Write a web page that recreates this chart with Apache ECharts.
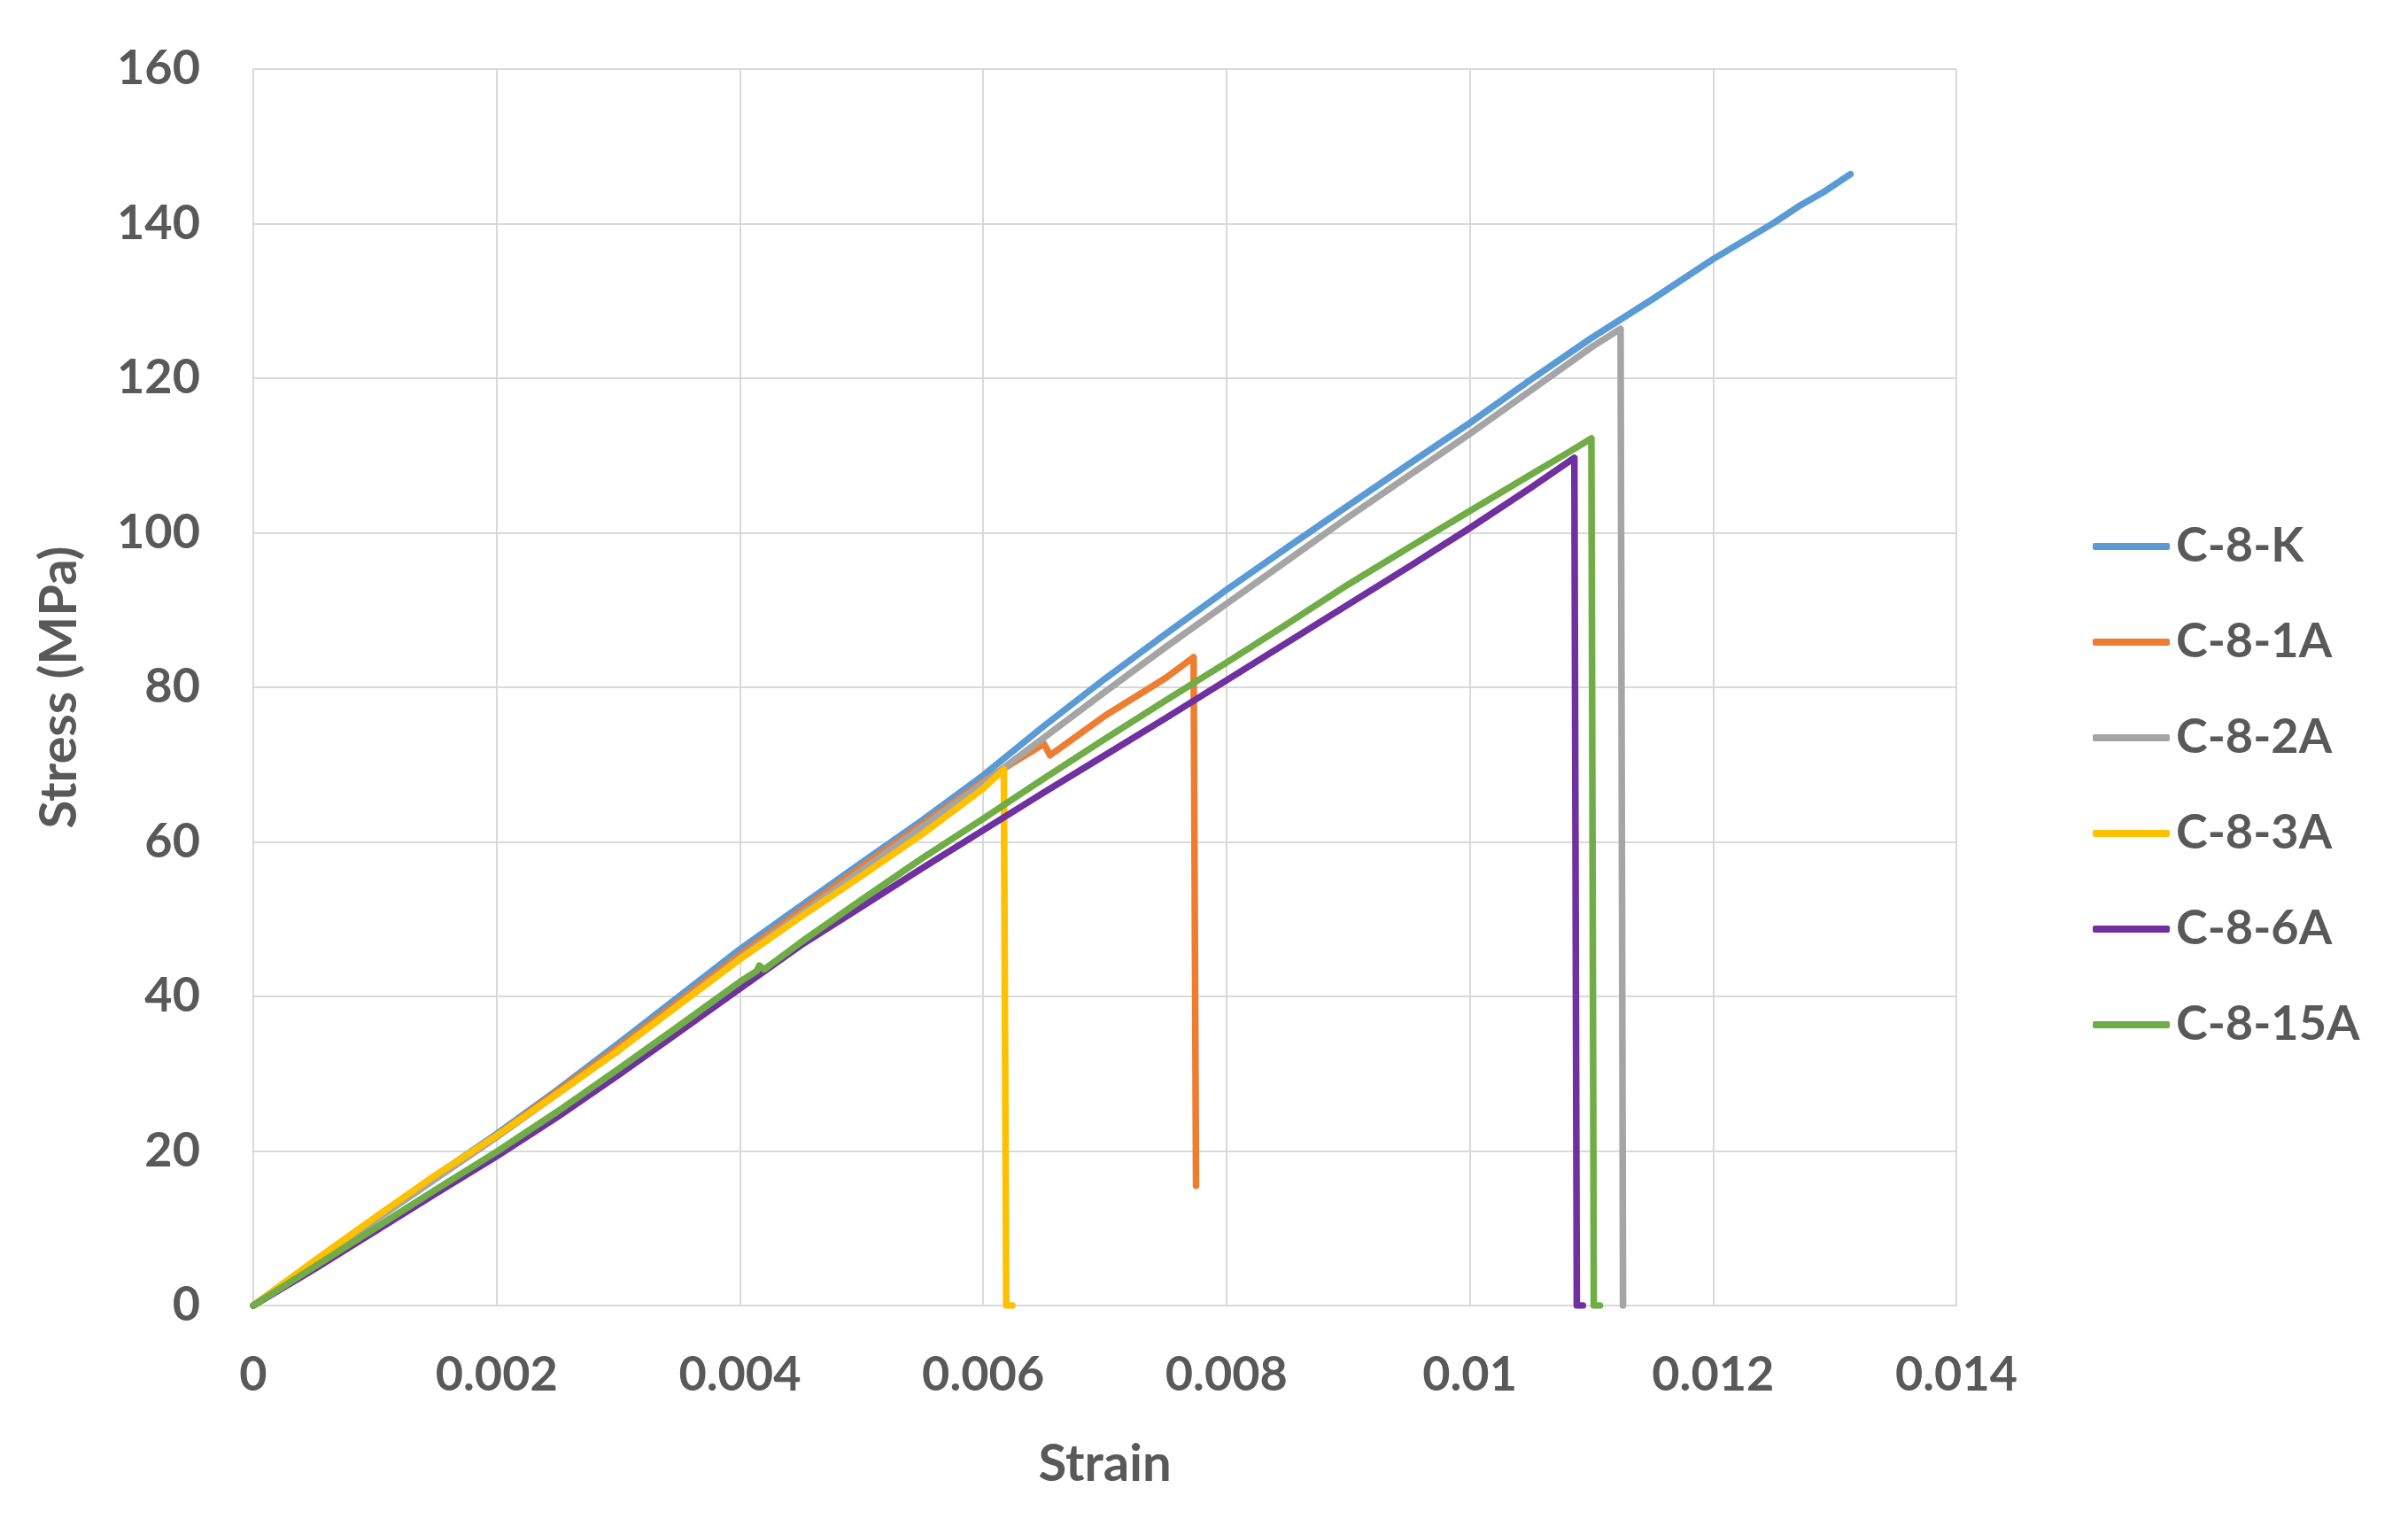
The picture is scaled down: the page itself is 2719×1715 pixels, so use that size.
<!DOCTYPE html>
<html>
<head>
<meta charset="utf-8">
<script src="https://cdn.jsdelivr.net/npm/echarts@6/dist/echarts.min.js"></script>
<style>
html,body{margin:0;padding:0;background:#fff;}
#chart{width:2719px;height:1715px;}
</style>
</head>
<body>
<div id="chart"></div>
<script>
// ---- Data (strain, stress MPa) ----
const seriesNames = ['C-8-K', 'C-8-1A', 'C-8-2A', 'C-8-3A', 'C-8-6A', 'C-8-15A'];
const xTickLabels = ['0', '0.002', '0.004', '0.006', '0.008', '0.01', '0.012', '0.014'];
const yTickLabels = ['0', '20', '40', '60', '80', '100', '120', '140', '160'];

const c8K = [[0,0],[0.0005,5.7],[0.001,11.3],[0.0015,16.8],[0.002,22.2],[0.0025,27.9],[0.003,33.9],[0.0035,40.0],[0.004,46.1],[0.0045,51.7],[0.005,57.3],[0.0055,62.8],[0.006,68.6],[0.0065,75.0],[0.007,81.1],[0.0075,86.9],[0.008,92.6],[0.0085,98.1],[0.009,103.5],[0.0095,108.9],[0.01,114.2],[0.0105,119.8],[0.011,125.2],[0.0115,130.2],[0.012,135.4],[0.0125,140.1],[0.0127,142.2],[0.0129,144.0],[0.01313,146.4]];
const c81A = [[0,0],[0.001,11.2],[0.002,22.0],[0.003,33.4],[0.004,45.4],[0.005,56.8],[0.006,67.8],[0.0062,69.8],[0.0065,72.7],[0.00655,71.2],[0.007,76.3],[0.0075,81.2],[0.00773,83.9],[0.00775,15.5]];
const c82A = [[0,0],[0.001,11.0],[0.002,21.8],[0.003,33.0],[0.004,45.0],[0.005,56.3],[0.006,67.6],[0.0065,73.5],[0.007,79.4],[0.0075,85.2],[0.008,90.8],[0.0085,96.4],[0.009,102.0],[0.0095,107.4],[0.01,112.8],[0.0105,118.4],[0.011,124.0],[0.01124,126.4],[0.01126,0]];
const c83A = [[0,0],[0.0005,5.8],[0.001,11.4],[0.0015,16.9],[0.002,22.0],[0.0025,27.4],[0.003,33.0],[0.0035,38.9],[0.004,44.8],[0.0045,50.3],[0.005,55.6],[0.0055,61.0],[0.006,66.9],[0.00617,69.4],[0.00619,0],[0.00624,0]];
const c86A = [[0,0],[0.0005,4.7],[0.001,9.6],[0.0015,14.5],[0.002,19.3],[0.0025,24.4],[0.003,29.8],[0.0035,35.4],[0.004,41.0],[0.0045,46.6],[0.005,51.6],[0.0055,56.6],[0.006,61.5],[0.0065,66.4],[0.007,71.2],[0.0075,76.0],[0.008,80.9],[0.0085,85.8],[0.009,90.7],[0.0095,95.6],[0.01,100.6],[0.0105,105.8],[0.01086,109.7],[0.01088,0],[0.01093,0]];
const c815A = [[0,0],[0.0005,5.0],[0.001,10.0],[0.0015,15.0],[0.002,19.9],[0.0025,25.1],[0.003,30.6],[0.0035,36.2],[0.004,41.9],[0.00414,43.3],[0.00416,44.0],[0.0042,43.5],[0.0045,47.0],[0.005,52.5],[0.0055,57.9],[0.006,63.0],[0.0065,68.2],[0.007,73.3],[0.0075,78.3],[0.008,83.2],[0.0085,88.2],[0.009,93.3],[0.0095,98.1],[0.01,102.8],[0.0105,107.5],[0.0108,110.3],[0.011,112.2],[0.01102,0],[0.01107,0]];

const seriesData = [c8K, c81A, c82A, c83A, c86A, c815A];
const colors = ['#5B9BD5', '#ED7D31', '#A5A5A5', '#FFC000', '#7030A0', '#70AD47'];

const FONT = 'Lato, "Open Sans", sans-serif';
const TXT = '#595959';

const chart = echarts.init(document.getElementById('chart'), null, {renderer: 'canvas'});
chart.setOption({
  animation: false,
  backgroundColor: '#ffffff',
  color: colors,
  grid: {left: 286, right: 510, top: 78, bottom: 241, containLabel: false},
  legend: {
    orient: 'vertical',
    left: 2358,
    top: 582,
    icon: 'roundRect',
    itemWidth: 87,
    itemHeight: 8,
    itemGap: 48,
    data: seriesNames,
    textStyle: {fontFamily: FONT, fontWeight: 'bold', fontSize: 54, color: TXT, lineHeight: 60, padding: [0,0,0,2]}
  },
  xAxis: {
    type: 'value', min: 0, max: 0.014, interval: 0.002,
    name: 'Strain', nameLocation: 'middle', nameGap: 150,
    nameTextStyle: {fontFamily: FONT, fontWeight: 'bold', fontSize: 58, color: TXT},
    axisLine: {show: true, lineStyle: {color: '#D9D9D9', width: 2}},
    axisTick: {show: false},
    axisLabel: {margin: 52, fontFamily: FONT, fontWeight: 'bold', fontSize: 54, color: TXT,
      formatter: v => xTickLabels[Math.round(v / 0.002)]},
    splitLine: {show: true, lineStyle: {color: '#D9D9D9', width: 2}}
  },
  yAxis: {
    type: 'value', min: 0, max: 160, interval: 20,
    name: 'Stress (MPa)', nameLocation: 'middle', nameGap: 190,
    nameTextStyle: {fontFamily: FONT, fontWeight: 'bold', fontSize: 58, color: TXT},
    axisLine: {show: true, lineStyle: {color: '#D9D9D9', width: 2}},
    axisTick: {show: false},
    axisLabel: {margin: 60, fontFamily: FONT, fontWeight: 'bold', fontSize: 54, color: TXT,
      formatter: v => yTickLabels[Math.round(v / 20)]},
    splitLine: {show: true, lineStyle: {color: '#D9D9D9', width: 2}}
  },
  series: seriesNames.map((n, i) => ({
    name: n,
    type: 'line',
    data: seriesData[i],
    symbol: 'none',
    showSymbol: false,
    smooth: false,
    lineStyle: {width: 7.5, color: colors[i], cap: 'round', join: 'round'},
    itemStyle: {color: colors[i]}
  }))
});
</script>
</body>
</html>
